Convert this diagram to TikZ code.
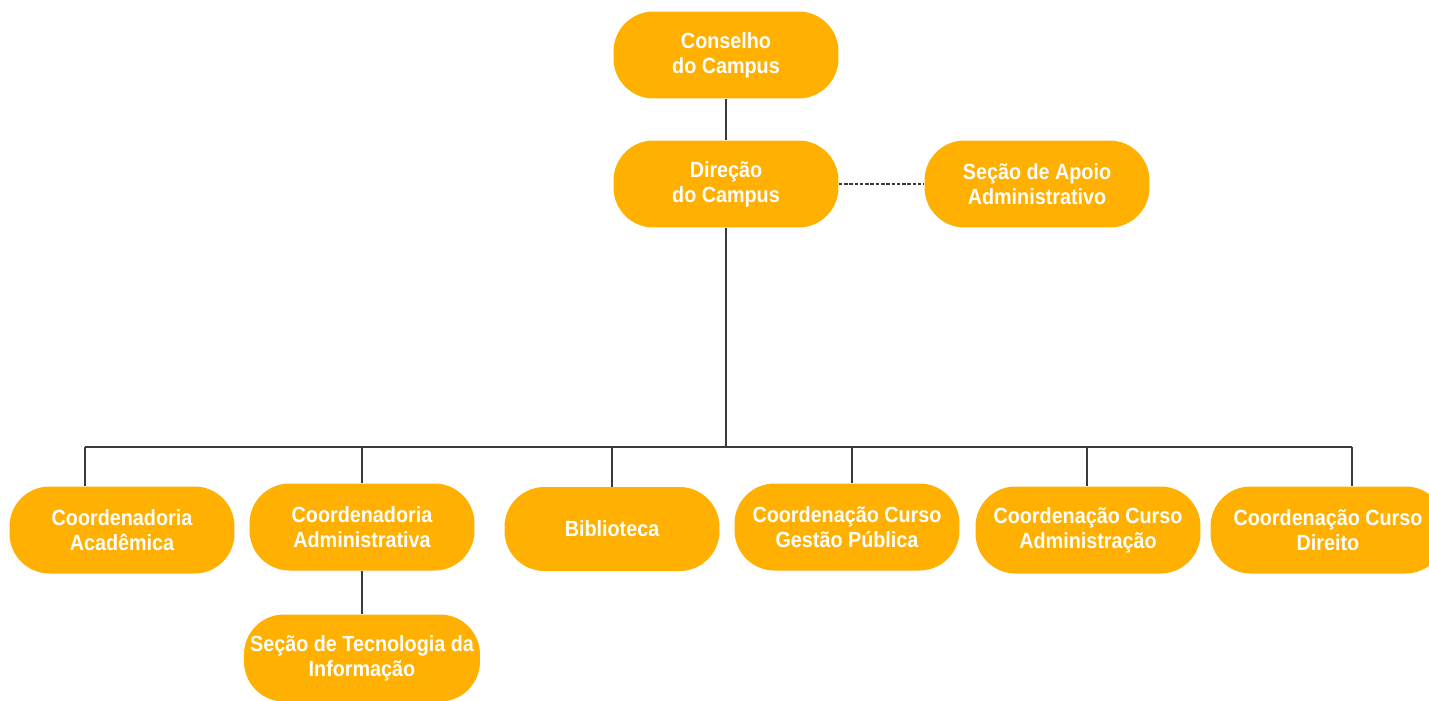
\documentclass[tikz,border=0pt]{standalone}
\usepackage{fontspec}
\setmainfont{Liberation Sans}[FakeStretch=0.9]
\definecolor{laranja}{HTML}{FFB000}
\definecolor{linha}{HTML}{3A3A3A}
\begin{document}
\begin{tikzpicture}[x=0.02cm,y=-0.02cm,
    caixa/.style={rectangle,rounded corners=0.8cm,fill=laranja,text=white,
        font=\bfseries\fontsize{12.5}{14.2}\selectfont,align=center,
        minimum width=4.5cm,minimum height=1.74cm,inner sep=0pt},
    liga/.style={draw=linha,line width=1pt}]
    \useasboundingbox (0,0) rectangle (1429,700);
    \node[caixa] (cons) at (726,55) {Conselho\\do Campus};
    \node[caixa] (dir) at (726,184) {Direção\\do Campus};
    \node[caixa] (apoio) at (1037,184) {Seção de Apoio\\Administrativo};
    \node[caixa] (acad) at (122,530) {Coordenadoria\\Acadêmica};
    \node[caixa] (adm) at (362,527) {Coordenadoria\\Administrativa};
    \node[caixa,minimum width=4.72cm] (ti) at (362,658) {Seção de Tecnologia da\\Informação};
    \node[caixa,minimum width=4.3cm,minimum height=1.68cm] (bib) at (612,529) {Biblioteca};
    \node[caixa] (gp) at (847,527) {Coordenação Curso\\Gestão Pública};
    \node[caixa] (cadm) at (1088,530) {Coordenação Curso\\Administração};
    \node[caixa,minimum width=4.7cm] (dto) at (1328,530) {Coordenação Curso\\Direito};
    % barra horizontal
    \coordinate (b1) at (85,447);
    \coordinate (b2) at (362,447);
    \coordinate (b3) at (612,447);
    \coordinate (b4) at (852,447);
    \coordinate (b5) at (1087,447);
    \coordinate (b6) at (1352,447);
    \draw[liga] (cons) -- (dir);
    \draw[liga,dash pattern=on 2pt off 1pt] (dir.east) -- (apoio.west);
    \draw[liga] (dir.south) -- (dir.south |- b1);
    \draw[liga] (b1) -- (b6);
    \foreach \c/\n in {b1/acad,b2/adm,b3/bib,b4/gp,b5/cadm,b6/dto}
        \draw[liga] (\c) -- (\c |- \n.north);
    \draw[liga] (adm) -- (ti);
\end{tikzpicture}
\end{document}
